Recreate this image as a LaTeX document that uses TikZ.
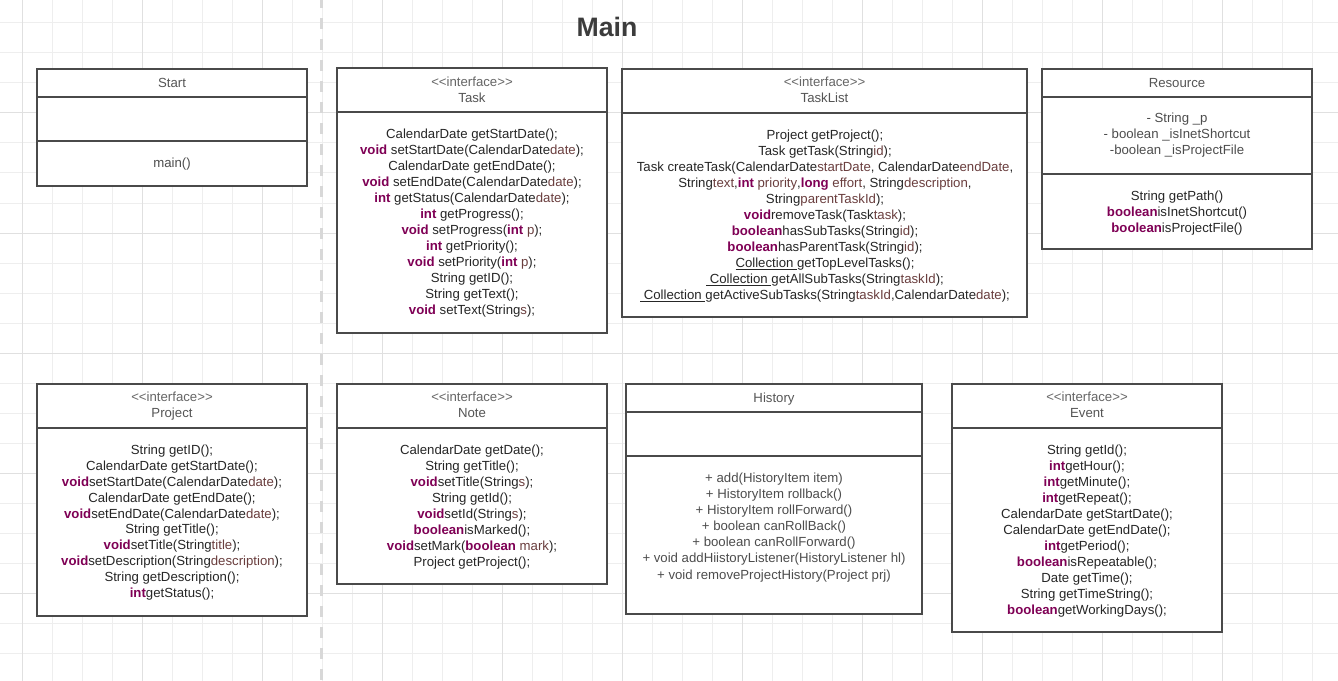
\documentclass[tikz,border=0pt]{standalone}
\usepackage{fontspec}
\setmainfont{Liberation Sans}
\definecolor{gridminor}{HTML}{EEEEEE}
\definecolor{gridmajor}{HTML}{E0E0E0}
\definecolor{dashc}{HTML}{D8D8D8}
\definecolor{boxc}{HTML}{4A4A4A}
\definecolor{bodyc}{HTML}{262626}
\definecolor{headc}{HTML}{555555}
\definecolor{stereoc}{HTML}{666666}
\definecolor{attrc}{HTML}{4D4D4D}
\definecolor{kwc}{HTML}{7F0055}
\definecolor{pnc}{HTML}{6A3E3E}
\definecolor{titlec}{HTML}{3C3C3C}
\newcommand\kw[1]{\textbf{\color{kwc}#1}}
\newcommand\pn[1]{{\color{pnc}#1}}
\newcommand\stereo{{<}{<}interface{>}{>}}
\tikzset{
  gminor/.style={draw=gridminor, line width=0.75pt},
  gmajor/.style={draw=gridmajor, line width=0.75pt},
  boxline/.style={draw=boxc, line width=1.5pt, fill=white},
  divline/.style={draw=boxc, line width=1.1pt},
  mline/.style={anchor=base, inner sep=0pt, yshift=-1.1pt, font=\fontsize{9.9pt}{12pt}\selectfont, text=bodyc},
  aline/.style={mline, text=attrc},
  hline/.style={mline, text=headc},
  sline/.style={mline, text=stereoc},
}
\begin{document}
\begin{tikzpicture}[x=0.75pt, y=-0.75pt]
\useasboundingbox (0,0) rectangle (1338,681);
\fill[white] (0,0) rectangle (1338,681);
% grid
\foreach \x in {22,52,...,1342} \draw[gminor] (\x,0) -- (\x,681);
\foreach \y in {23,53,...,683} \draw[gminor] (0,\y) -- (1338,\y);
\foreach \x in {22,142,...,1342} \draw[gmajor] (\x,0) -- (\x,681);
\foreach \y in {113,233,...,683} \draw[gmajor] (0,\y) -- (1338,\y);
% dashed separator
\draw[draw=dashc, line width=2.25pt, dash pattern=on 8pt off 7.75pt, dash phase=2pt] (321,0) -- (321,681);
% title
\node[anchor=base, inner sep=0pt, font=\fontsize{20pt}{24pt}\selectfont\bfseries, text=titlec] (title) at (607,36.5) {Main};

% ---------- Start ----------
\draw[boxline] (37,69) rectangle (307,186);
\draw[divline] (37,97) -- (307,97);
\draw[divline] (37,141) -- (307,141);
\node[hline] (start-name) at (172,86) {Start};
\node[aline] (start-m0) at (172,166) {main()};

% ---------- Task ----------
\draw[boxline] (337,68) rectangle (607,333);
\draw[divline] (337,112) -- (607,112);
\node[sline] (task-st) at (472,85) {\stereo};
\node[hline] (task-name) at (472,101) {Task};
\foreach \t [count=\i from 0] in {
  {CalendarDate getStartDate();},
  {\kw{void} setStartDate(CalendarDate\pn{date});},
  {CalendarDate getEndDate();},
  {\kw{void} setEndDate(CalendarDate\pn{date});},
  {\kw{int} getStatus(CalendarDate\pn{date});},
  {\kw{int} getProgress();},
  {\kw{void} setProgress(\kw{int} \pn{p});},
  {\kw{int} getPriority();},
  {\kw{void} setPriority(\kw{int} \pn{p});},
  {String getID();},
  {String getText();},
  {\kw{void} setText(String\pn{s});}}
  \node[mline] (task-m\i) at (472,{137+16*\i}) {\t};

% ---------- TaskList ----------
\draw[boxline] (622,69) rectangle (1027,317);
\draw[divline] (622,113) -- (1027,113);
\node[sline] (tl-st) at (824.5,85) {\stereo};
\node[hline] (tl-name) at (824.5,101) {TaskList};
\foreach \t [count=\i from 0] in {
  {Project getProject();},
  {Task getTask(String\pn{id});},
  {Task createTask(CalendarDate\pn{startDate}, CalendarDate\pn{endDate},},
  {String\pn{text},\kw{int} \pn{priority},\kw{long} \pn{effort}, String\pn{description},},
  {String\pn{parentTaskId});},
  {\kw{void}removeTask(Task\pn{task});},
  {\kw{boolean}hasSubTasks(String\pn{id});},
  {\kw{boolean}hasParentTask(String\pn{id});},
  {\underline{Collection\ }getTopLevelTasks();},
  {\underline{\ Collection\ }getAllSubTasks(String\pn{taskId});},
  {\underline{\ Collection\ }getActiveSubTasks(String\pn{taskId},CalendarDate\pn{date});}}
  \node[mline] (tl-m\i) at (825,{138+16*\i}) {\t};

% ---------- Resource ----------
\draw[boxline] (1042,69) rectangle (1312,249);
\draw[divline] (1042,97) -- (1312,97);
\draw[divline] (1042,174) -- (1312,174);
\node[hline] (res-name) at (1177,86) {Resource};
\foreach \t [count=\i from 0] in {
  {- String \_p},
  {- boolean \_isInetShortcut},
  {-boolean \_isProjectFile}}
  \node[aline] (res-a\i) at (1177,{121+16*\i}) {\t};
\foreach \t [count=\i from 0] in {
  {String getPath()},
  {\kw{boolean}isInetShortcut()},
  {\kw{boolean}isProjectFile()}}
  \node[mline] (res-m\i) at (1177,{199+16*\i}) {\t};

% ---------- Project ----------
\draw[boxline] (37,384) rectangle (307,616);
\draw[divline] (37,428) -- (307,428);
\node[sline] (proj-st) at (172,400) {\stereo};
\node[hline] (proj-name) at (172,416) {Project};
\foreach \t [count=\i from 0] in {
  {String getID();},
  {CalendarDate getStartDate();},
  {\kw{void}setStartDate(CalendarDate\pn{date});},
  {CalendarDate getEndDate();},
  {\kw{void}setEndDate(CalendarDate\pn{date});},
  {String getTitle();},
  {\kw{void}setTitle(String\pn{title});},
  {\kw{void}setDescription(String\pn{description});},
  {String getDescription();},
  {\kw{int}getStatus();}}
  \node[mline] (proj-m\i) at (172,{453+15.9*\i}) {\t};

% ---------- Note ----------
\draw[boxline] (337,384) rectangle (607,584);
\draw[divline] (337,428) -- (607,428);
\node[sline] (note-st) at (472,400) {\stereo};
\node[hline] (note-name) at (472,416) {Note};
\foreach \t [count=\i from 0] in {
  {CalendarDate getDate();},
  {String getTitle();},
  {\kw{void}setTitle(String\pn{s});},
  {String getId();},
  {\kw{void}setId(String\pn{s});},
  {\kw{boolean}isMarked();},
  {\kw{void}setMark(\kw{boolean} \pn{mark});},
  {Project getProject();}}
  \node[mline] (note-m\i) at (472,{453+16*\i}) {\t};

% ---------- History ----------
\draw[boxline] (626,384) rectangle (922,614);
\draw[divline] (626,412) -- (922,412);
\draw[divline] (626,456) -- (922,456);
\node[hline] (hist-name) at (774,401) {History};
\foreach \t [count=\i from 0] in {
  {+ add(HistoryItem item)},
  {+ HistoryItem rollback()},
  {+ HistoryItem rollForward()},
  {+ boolean canRollBack()},
  {+ boolean canRollForward()},
  {+ void addHiistoryListener(HistoryListener hl)},
  {+ void removeProjectHistory(Project prj)}}
  \node[aline] (hist-m\i) at (774,{481+16.1*\i}) {\t};

% ---------- Event ----------
\draw[boxline] (952,384) rectangle (1222,632);
\draw[divline] (952,428) -- (1222,428);
\node[sline] (ev-st) at (1087,400) {\stereo};
\node[hline] (ev-name) at (1087,416) {Event};
\foreach \t [count=\i from 0] in {
  {String getId();},
  {\kw{int}getHour();},
  {\kw{int}getMinute();},
  {\kw{int}getRepeat();},
  {CalendarDate getStartDate();},
  {CalendarDate getEndDate();},
  {\kw{int}getPeriod();},
  {\kw{boolean}isRepeatable();},
  {Date getTime();},
  {String getTimeString();},
  {\kw{boolean}getWorkingDays();}}
  \node[mline] (ev-m\i) at (1087,{453+16*\i}) {\t};
\end{tikzpicture}
\end{document}
